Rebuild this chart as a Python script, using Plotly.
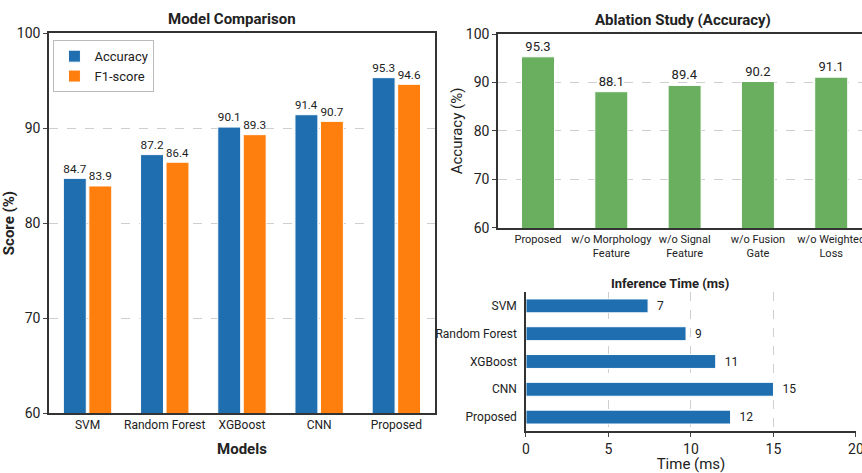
import plotly.graph_objects as go

# ---------------- data ----------------
models = ["SVM", "Random Forest", "XGBoost", "CNN", "Proposed"]
accuracy = [84.7, 87.2, 90.1, 91.4, 95.3]
f1_score = [83.9, 86.4, 89.3, 90.7, 94.6]

ablation_cats = ["Proposed", "w/o Morphology<br>Feature", "w/o Signal<br>Feature",
                 "w/o Fusion<br>Gate", "w/o Weighted<br>Loss"]
ablation_acc = [95.3, 88.1, 89.4, 90.2, 91.1]

inf_models = ["SVM", "Random Forest", "XGBoost", "CNN", "Proposed"]
inf_time_bar = [7.4, 9.7, 11.5, 15.0, 12.4]   # bar lengths as drawn
inf_time_label = ["7", "9", "11", "15", "12"]  # printed labels

BLUE = "#1f6fb0"
ORANGE = "#ff7f0e"
GREEN = "#6aae5f"
TXT = "#222222"
FONT = "Roboto, sans-serif"

fig = go.Figure()

# Model comparison
fig.add_trace(go.Bar(x=models, y=accuracy, name="Accuracy", marker_color=BLUE,
                     marker_line=dict(color="white", width=1),
                     text=[f"{v:.1f}" for v in accuracy], textposition="outside",
                     textfont=dict(size=13, color=TXT), cliponaxis=False,
                     xaxis="x", yaxis="y"))
fig.add_trace(go.Bar(x=models, y=f1_score, name="F1-score", marker_color=ORANGE,
                     marker_line=dict(color="white", width=1),
                     text=[f"{v:.1f}" for v in f1_score], textposition="outside",
                     textfont=dict(size=13, color=TXT), cliponaxis=False,
                     xaxis="x", yaxis="y"))

# Ablation
fig.add_trace(go.Bar(x=ablation_cats, y=ablation_acc, marker_color=GREEN, width=0.45,
                     marker_line=dict(color="white", width=1),
                     text=[f"{v:.1f}" for v in ablation_acc], textposition="outside",
                     textfont=dict(size=13, color=TXT), cliponaxis=False,
                     showlegend=False, xaxis="x2", yaxis="y2"))

# Inference time
fig.add_trace(go.Bar(y=inf_models, x=inf_time_bar, orientation="h", marker_color=BLUE,
                     width=0.5, marker_line=dict(color="white", width=1),
                     text=["  " + t for t in inf_time_label], textposition="outside",
                     textfont=dict(size=13, color=TXT), cliponaxis=False,
                     showlegend=False, xaxis="x3", yaxis="y3"))

grid = dict(showgrid=True, gridcolor="#cfcfcf", griddash="dash", gridwidth=1)
axline = dict(showline=True, linecolor="#333333", linewidth=1.5, automargin=False,
              zeroline=False, ticklabeloverflow="allow")

fig.update_layout(
    template="none",
    width=862, height=473,
    margin=dict(l=0, r=0, t=0, b=0, pad=0),
    paper_bgcolor="white", plot_bgcolor="white",
    font=dict(family=FONT, size=13, color=TXT),
    barmode="group", bargap=0.34, bargroupgap=0.1,
    xaxis=dict(domain=[0.0568, 0.5046], anchor="y", range=[-0.5, 4.5],
               showgrid=False, ticks="", mirror=True, tickangle=0, **axline,
               tickfont=dict(size=12),
               title=dict(text="<b>Models</b>", font=dict(size=15), standoff=12)),
    yaxis=dict(domain=[0.1268, 0.9302], anchor="x", range=[60, 100],
               dtick=10, ticks="outside", ticklen=4, mirror=True, **axline, **grid,
               tickfont=dict(size=14),
               title=dict(text="<b>Score (%)</b>", font=dict(size=15), standoff=2)),
    xaxis2=dict(domain=[0.5777, 1.0], anchor="y2", range=[-0.546, 4.42],
                showgrid=False, ticks="", mirror=True, tickangle=0, **axline,
                tickfont=dict(size=11)),
    yaxis2=dict(domain=[0.518, 0.9281], anchor="x2", range=[60, 100],
                dtick=10, ticks="outside", ticklen=4, **axline, **grid,
                tickfont=dict(size=14),
                title=dict(text="Accuracy (%)", font=dict(size=15), standoff=0)),
    xaxis3=dict(domain=[0.6102, 0.993], anchor="y3", range=[0, 20], dtick=5,
                ticks="outside", ticklen=4, tickangle=0, **axline, **grid,
                tickfont=dict(size=14),
                title=dict(text="Time (ms)", font=dict(size=15), standoff=2)),
    yaxis3=dict(domain=[0.0888, 0.3827], anchor="x3", range=[4.5, -0.5],
                ticks="", showgrid=False, ticklabelstandoff=5, **axline,
                tickfont=dict(size=12)),
    legend=dict(x=0.062, y=0.915, xanchor="left", yanchor="top",
                bordercolor="#bbbbbb", borderwidth=1, bgcolor="white",
                font=dict(size=13), tracegroupgap=0),
    annotations=[
        dict(text="<b>Model Comparison</b>", x=232 / 862, y=1 - 19 / 473, xref="paper",
             yref="paper", showarrow=False, font=dict(size=15),
             xanchor="center", yanchor="middle"),
        dict(text="<b>Ablation Study (Accuracy)</b>", x=683 / 862, y=1 - 20 / 473,
             xref="paper", yref="paper", showarrow=False, font=dict(size=15),
             xanchor="center", yanchor="middle"),
        dict(text="<b>Inference Time (ms)</b>", x=670 / 862, y=1 - 283 / 473,
             xref="paper", yref="paper", showarrow=False, font=dict(size=13),
             xanchor="center", yanchor="middle"),
    ],
)

fig.write_html("out.html")
